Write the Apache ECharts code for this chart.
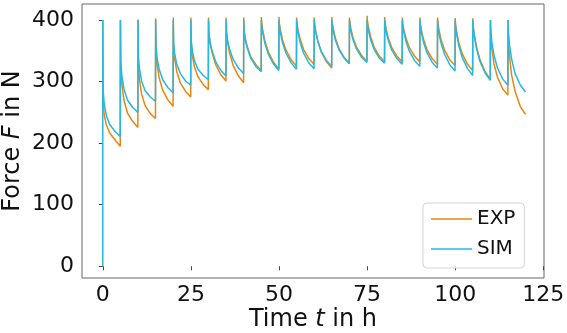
<!DOCTYPE html>
<html>
<head>
<meta charset="utf-8">
<script src="https://cdn.jsdelivr.net/npm/echarts@6/dist/echarts.min.js"></script>
<style>html,body{margin:0;padding:0;background:#fff}#c{width:567px;height:333px}</style>
</head>
<body>
<div id="c"></div>
<script>
// ---- data ----
const cycleStarts = [0,5,10,15,20,25,30,35,40,45,50,55,60,65,70,75,80,85,90,95,100,105,110,115];
const offsets = [0, 0.1, 0.4, 1.0, 2.0, 3.5, 4.95];
const simLead = [[0, 0]];
const simCycles = [
  [400,287,264,245,230,219,211],
  [400,333,310,288,270,258,250],
  [400,341,321,301,285,275,268],
  [400,359,339,320,303,290,282],
  [400,363,345,328,313,301,294],
  [400,366,350,334,320,310,303],
  [400,380,365,350,333,318,309],
  [400,381,367,352,336,322,313],
  [400,382,368,354,338,324,316],
  [400,390,379,362,344,328,318],
  [400,390,379,363,346,330,320],
  [400,391,380,364,346,330,321],
  [400,391,381,366,349,334,325],
  [400,392,382,367,352,338,329],
  [400,392,382,368,353,339,331],
  [400,392,382,368,352,338,330],
  [400,391,381,367,351,337,328],
  [400,391,381,366,349,334,325],
  [400,391,380,364,347,331,322],
  [400,390,378,362,344,327,317],
  [400,389,377,359,339,321,310],
  [400,388,375,355,333,314,302],
  [400,383,364,343,322,304,294],
  [400,381,360,337,313,294,283]
];
const expCycles = [
  [400,267,246,230,216,205,195],
  [400,322,296,270,249,235,226],
  [401,329,304,280,261,248,240],
  [403,353,329,306,286,270,260],
  [404,359,337,316,298,284,275],
  [404,363,343,324,308,295,287],
  [404,381,365,347,328,311,301],
  [404,381,364,346,326,309,298],
  [404,385,371,357,340,327,318],
  [405,395,383,366,348,331,321],
  [405,395,384,368,351,335,325],
  [404,395,384,369,352,337,328],
  [404,394,383,366,348,332,322],
  [405,396,386,371,354,339,330],
  [404,396,386,371,356,342,333],
  [407,398,388,373,356,341,332],
  [405,396,386,371,355,341,332],
  [404,395,385,371,355,341,332],
  [404,395,384,369,352,337,328],
  [404,395,384,368,351,335,326],
  [403,393,381,364,345,328,318],
  [403,391,377,358,336,316,304],
  [400,376,354,329,307,288,278],
  [400,369,342,311,284,259,247]
];
const xTicks = [0,25,50,75,100,125];
const yTicks = [0,100,200,300,400];
const seriesNames = ['EXP','SIM'];

function build(cycles, lead) {
  const pts = lead.slice();
  cycles.forEach((vals, i) => vals.forEach((v, j) => pts.push([cycleStarts[i] + offsets[j], v])));
  return pts;
}

const FONT = 'DejaVu Sans';
const TXT = '#111';
const chart = echarts.init(document.getElementById('c'), null, {renderer: 'canvas'});
const richName = {n: {fontSize: 24, color: TXT, fontFamily: FONT}, i: {fontSize: 24, color: TXT, fontStyle: 'italic', fontFamily: FONT}};
chart.setOption({
  animation: false,
  backgroundColor: '#fff',
  textStyle: {fontFamily: FONT},
  grid: {left: 82, right: 23, top: 4, bottom: 55, show: true, borderColor: '#666', borderWidth: 1,
         backgroundColor: 'transparent', outerBoundsMode: 'none', containLabel: false},
  xAxis: {
    type: 'value', min: -5.9, max: 125.2,
    axisLine: {show: false},
    splitLine: {show: false},
    axisTick: {show: true, length: 4, customValues: xTicks, lineStyle: {color: '#444'}},
    axisLabel: {customValues: xTicks, fontSize: 22, color: TXT, margin: 6, fontFamily: FONT},
    name: '{n|Time }{i|t}{n| in h}', nameLocation: 'middle', nameGap: 30, nameMoveOverlap: false,
    nameTextStyle: {fontSize: 24, color: TXT, fontFamily: FONT, rich: richName}
  },
  yAxis: {
    type: 'value', min: -19, max: 426,
    axisLine: {show: false},
    splitLine: {show: false},
    axisTick: {show: true, length: 4, customValues: yTicks, lineStyle: {color: '#444'}},
    axisLabel: {customValues: yTicks, fontSize: 22, color: TXT, margin: 8, fontFamily: FONT},
    name: '{n|Force }{i|F}{n| in N}', nameLocation: 'middle', nameGap: 57, nameMoveOverlap: false,
    nameTextStyle: {fontSize: 24, color: TXT, fontFamily: FONT, rich: richName}
  },
  legend: {
    orient: 'vertical', left: 423, top: 203,
    padding: [6, 9, 9, 8], itemGap: 10, itemWidth: 41, itemHeight: 1.6,
    itemTextGap: 16, icon: 'rect',
    backgroundColor: 'rgba(255,255,255,0.8)', borderColor: '#d4d4d4', borderWidth: 1, borderRadius: 4,
    textStyle: {fontSize: 20, lineHeight: 20, color: TXT, fontFamily: FONT},
    data: seriesNames
  },
  series: [
    {name: seriesNames[0], type: 'line', data: build(expCycles, []), symbol: 'none', showSymbol: false,
     lineStyle: {color: '#e8860f', width: 1.5}, itemStyle: {color: '#e8860f'}, z: 2},
    {name: seriesNames[1], type: 'line', data: build(simCycles, simLead), symbol: 'none', showSymbol: false,
     lineStyle: {color: '#26b8e4', width: 1.5}, itemStyle: {color: '#26b8e4'}, z: 3}
  ]
});
</script>
</body>
</html>
